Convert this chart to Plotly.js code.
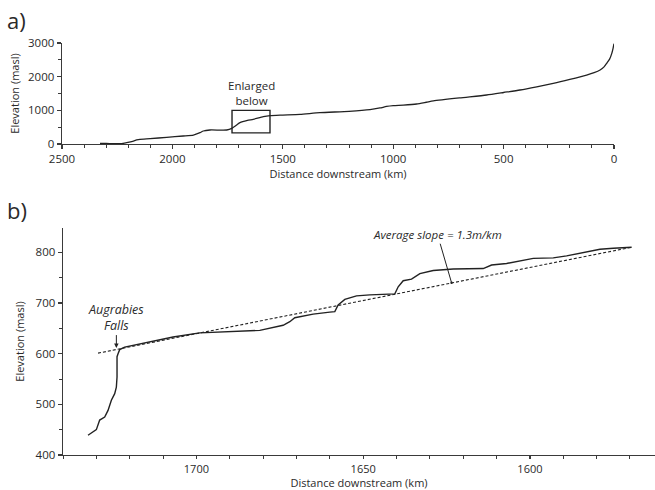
<!DOCTYPE html>
<html>
<head>
<meta charset="utf-8">
<script src="https://cdn.plot.ly/plotly-3.0.1.min.js"></script>
<style>html,body{margin:0;padding:0;background:#fff;}#chart{width:655px;height:490px;}</style>
</head>
<body>
<div id="chart"></div>
<script>
// Panel a: whole profile
const profileKm = [2328, 2300, 2268, 2230, 2207, 2180, 2162, 2147, 2101, 2026, 1951, 1905, 1875, 1860, 1830, 1754, 1731, 1709, 1694, 1660, 1634, 1588, 1558, 1500, 1422, 1332, 1200, 1105, 1060, 1030, 1000, 954, 894, 850, 818, 700, 577, 500, 426, 350, 275, 200, 124, 90, 63, 45, 33, 20, 10, 4, 0];
const profileElev = [20, 15, 10, 10, 40, 80, 119, 139, 158, 198, 238, 267, 337, 386, 416, 416, 465, 564, 634, 700, 733, 812, 842, 860, 881, 930, 970, 1020, 1070, 1115, 1140, 1155, 1188, 1240, 1280, 1370, 1455, 1530, 1604, 1700, 1802, 1920, 2049, 2120, 2198, 2290, 2396, 2520, 2693, 2850, 2980];

// Panel b: enlarged reach
const reachKm = [1732.5, 1730, 1729, 1727.5, 1726.5, 1725.5, 1724.5, 1724, 1723.8, 1723.8, 1723.5, 1723, 1721.5, 1714, 1707, 1699, 1689, 1681, 1674, 1672, 1670.5, 1665, 1660, 1658.5, 1657.5, 1655.5, 1652, 1648, 1640.5, 1639.5, 1638, 1635.5, 1633, 1629, 1623, 1614, 1611.5, 1607, 1599, 1593, 1589, 1584, 1579, 1575, 1569.5];
const reachElev = [439, 450, 469, 475, 488, 508, 521, 534, 554, 594, 600, 608, 613, 623, 633, 641, 643, 646, 656, 663, 671, 678, 682, 683, 696, 707, 714, 716, 718, 732, 744, 747, 758, 764, 767, 768, 775, 778, 788, 789, 793, 799, 806, 808, 810];

// Average slope line
const slopeKm = [1729.5, 1569.5];
const slopeElev = [601, 810];

// Enlarged box extent
const boxKm = [1730, 1558];
const boxElev = [330, 1000];

const topTicks = [2500, 2000, 1500, 1000, 500, 0];
const topYTicks = [0, 1000, 2000, 3000];
const botTicks = [1700, 1650, 1600];
const botYTicks = [400, 500, 600, 700, 800];

const FONT = 'Open Sans, sans-serif';
const ink = '#2a2a2a';
const axisCommon = {
  showgrid: false, zeroline: false, showline: true, linecolor: '#3a3a3a', linewidth: 1.4,
  ticks: 'outside', ticklen: 4, tickwidth: 1.2, tickcolor: '#3a3a3a',
  tickfont: {family: FONT, size: 11.5, color: ink}, fixedrange: true
};

const traces = [
  {x: profileKm, y: profileElev, xaxis: 'x', yaxis: 'y', mode: 'lines', line: {color: '#222', width: 1.3, shape: 'spline', smoothing: 0.6}, hoverinfo: 'skip'},
  {x: reachKm, y: reachElev, xaxis: 'x2', yaxis: 'y2', mode: 'lines', line: {color: '#222', width: 1.4}, hoverinfo: 'skip'},
  {x: slopeKm, y: slopeElev, xaxis: 'x2', yaxis: 'y2', mode: 'lines', line: {color: '#222', width: 1.1, dash: '3px,2px'}, hoverinfo: 'skip'}
];

const layout = {
  width: 655, height: 490,
  margin: {l: 0, r: 0, t: 0, b: 0},
  paper_bgcolor: '#fff', plot_bgcolor: '#fff',
  showlegend: false,
  font: {family: FONT, color: ink},
  xaxis: Object.assign({}, axisCommon, {
    domain: [62/655, 614/655], anchor: 'y', range: [2500, 0],
    tickvals: topTicks, minor: {dtick: 100, tick0: 0, ticks: 'outside', ticklen: 3, tickcolor: '#3a3a3a', tickwidth: 1},
    title: {text: 'Distance downstream (km)', font: {family: FONT, size: 11, color: ink}, standoff: 4}
  }),
  yaxis: Object.assign({}, axisCommon, {
    domain: [346/490, 447/490], anchor: 'x', range: [0, 3000],
    tickvals: topYTicks, minor: {dtick: 500, tick0: 0, ticks: 'outside', ticklen: 3, tickcolor: '#3a3a3a', tickwidth: 1},
    title: {text: 'Elevation (masl)', font: {family: FONT, size: 11, color: ink}, standoff: 6}
  }),
  xaxis2: Object.assign({}, axisCommon, {
    domain: [63/655, 1], anchor: 'y2', range: [1740, 1562.5], ticklen: 3,
    tickfont: {family: FONT, size: 11, color: ink},
    tickvals: botTicks, minor: {dtick: 10, tick0: 0, ticks: 'outside', ticklen: 3, tickcolor: '#3a3a3a', tickwidth: 1},
    title: {text: 'Distance downstream (km)', font: {family: FONT, size: 11, color: ink}, standoff: 7}
  }),
  yaxis2: Object.assign({}, axisCommon, {
    domain: [35/490, 262/490], anchor: 'x2', range: [400, 848],
    tickvals: botYTicks, minor: {dtick: 50, tick0: 0, ticks: 'outside', ticklen: 3, tickcolor: '#3a3a3a', tickwidth: 1},
    title: {text: 'Elevation (masl)', font: {family: FONT, size: 11, color: ink}, standoff: 8}
  }),
  shapes: [
    {type: 'rect', xref: 'x', yref: 'y', x0: boxKm[0], x1: boxKm[1], y0: boxElev[0], y1: boxElev[1], line: {color: '#222', width: 1.4}}
  ],
  annotations: [
    {xref: 'paper', yref: 'paper', x: 0.008, y: 1 - 20/490, xanchor: 'left', yanchor: 'middle', text: 'a)', showarrow: false, font: {family: FONT, size: 22, color: ink}},
    {xref: 'paper', yref: 'paper', x: 0.008, y: 1 - 210/490, xanchor: 'left', yanchor: 'middle', text: 'b)', showarrow: false, font: {family: FONT, size: 22, color: ink}},
    {xref: 'x', yref: 'y', x: 1644, y: 1000, yanchor: 'bottom', text: 'Enlarged<br>below', showarrow: false, font: {family: FONT, size: 11.5, color: ink}},
    {xref: 'x2', yref: 'y2', x: 1724, y: 611, text: '<i>Augrabies<br>Falls</i>', showarrow: true, ax: 0, ay: -31, arrowhead: 2, arrowsize: 0.9, arrowwidth: 1, arrowcolor: '#222', standoff: 0, font: {family: FONT, size: 12.5, color: ink}},
    {xref: 'x2', yref: 'y2', x: 1623.5, y: 740, text: '<i>Average slope = 1.3m/km</i>', showarrow: true, ax: -14, ay: -48, arrowhead: 6, arrowsize: 0.6, arrowwidth: 1, arrowcolor: '#222', standoff: 0, font: {family: FONT, size: 11.5, color: ink}}
  ]
};

Plotly.newPlot('chart', traces, layout, {staticPlot: true, displayModeBar: false});
</script>
</body>
</html>
